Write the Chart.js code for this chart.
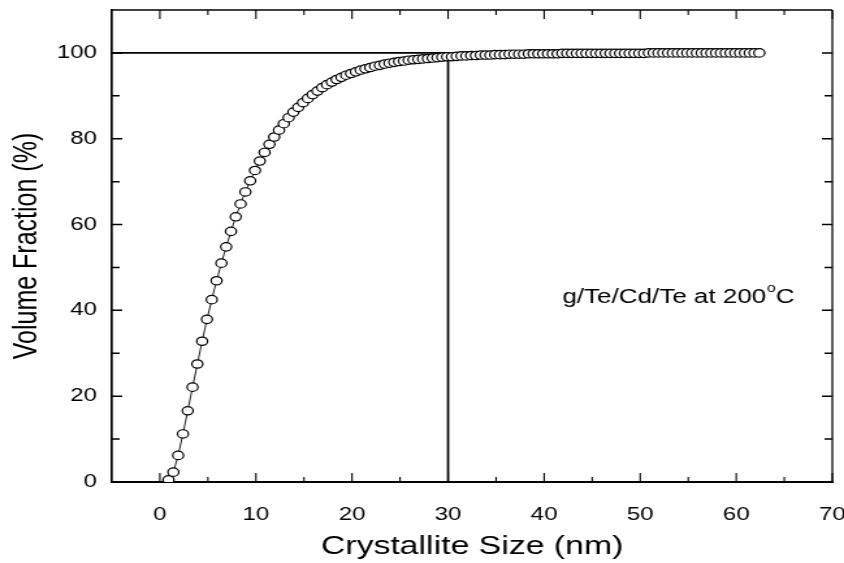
<!DOCTYPE html>
<html>
<head>
<meta charset="utf-8">
<script src="https://cdn.jsdelivr.net/npm/chart.js@4"></script>
<style>
  html, body { margin: 0; padding: 0; background: #ffffff; overflow: hidden; }
  /* the source figure is stretched sideways, so the canvas is drawn narrow and widened */
  #wrap { width: 649px; height: 563px; transform: scale(1.3005, 1); transform-origin: 0 0; }
</style>
</head>
<body>
<div id="wrap"><canvas id="vf_chart" width="649" height="563"></canvas></div>
<script>
// crystallite size (nm) of each measured point
var sizeNm = [
  0.9, 1.4, 1.9, 2.4, 2.9, 3.4, 3.9, 4.4, 4.9, 5.4,
  5.9, 6.4, 6.9, 7.4, 7.9, 8.4, 8.9, 9.4, 9.9, 10.4,
  10.9, 11.4, 11.9, 12.4, 12.9, 13.4, 13.9, 14.4, 14.9, 15.4,
  15.9, 16.4, 16.9, 17.4, 17.9, 18.4, 18.9, 19.4, 19.9, 20.4,
  20.9, 21.4, 21.9, 22.4, 22.9, 23.4, 23.9, 24.4, 24.9, 25.4,
  25.9, 26.4, 26.9, 27.4, 27.9, 28.4, 28.9, 29.4, 29.9, 30.4,
  30.9, 31.4, 31.9, 32.4, 32.9, 33.4, 33.9, 34.4, 34.9, 35.4,
  35.9, 36.4, 36.9, 37.4, 37.9, 38.4, 38.9, 39.4, 39.9, 40.4,
  40.9, 41.4, 41.9, 42.4, 42.9, 43.4, 43.9, 44.4, 44.9, 45.4,
  45.9, 46.4, 46.9, 47.4, 47.9, 48.4, 48.9, 49.4, 49.9, 50.4,
  50.9, 51.4, 51.9, 52.4, 52.9, 53.4, 53.9, 54.4, 54.9, 55.4,
  55.9, 56.4, 56.9, 57.4, 57.9, 58.4, 58.9, 59.4, 59.9, 60.4,
  60.9, 61.4, 61.9, 62.4
];
// volume fraction (%)
var volumeFraction = [
  0.5, 2.3, 6.2, 11.2, 16.6, 22.1, 27.5, 32.8, 37.9, 42.5,
  46.9, 51.0, 54.8, 58.4, 61.8, 64.8, 67.6, 70.2, 72.6, 74.8,
  76.8, 78.7, 80.4, 82.0, 83.5, 84.9, 86.2, 87.3, 88.4, 89.4,
  90.3, 91.1, 91.9, 92.6, 93.2, 93.8, 94.3, 94.8, 95.2, 95.6,
  96.0, 96.3, 96.6, 96.9, 97.1, 97.4, 97.6, 97.8, 98.0, 98.1,
  98.3, 98.4, 98.5, 98.6, 98.7, 98.8, 98.9, 99.0, 99.1, 99.1,
  99.2, 99.3, 99.3, 99.4, 99.4, 99.5, 99.5, 99.5, 99.6, 99.6,
  99.6, 99.7, 99.7, 99.7, 99.7, 99.8, 99.8, 99.8, 99.8, 99.8,
  99.8, 99.8, 99.9, 99.9, 99.9, 99.9, 99.9, 99.9, 99.9, 99.9,
  99.9, 99.9, 99.9, 99.9, 99.9, 99.9, 99.9, 99.9, 99.9, 99.9,
  100.0, 100.0, 100.0, 100.0, 100.0, 100.0, 100.0, 100.0, 100.0, 100.0,
  100.0, 100.0, 100.0, 100.0, 100.0, 100.0, 100.0, 100.0, 100.0, 100.0,
  100.0, 100.0, 100.0, 100.0
];
// guide lines: 100 % level and the 30 nm drop line
var guideX = [-5, 30, 30];
var guideY = [100, 100, 0];

var xTicks = [0, 10, 20, 30, 40, 50, 60, 70];
var xMinorTicks = [5, 15, 25, 35, 45, 55, 65];
var yTicks = [0, 20, 40, 60, 80, 100];
var yMinorTicks = [10, 30, 50, 70, 90];

var labelText = "g/Te/Cd/Te at 200";
var labelSup = "o";
var labelEnd = "C";
var labelPos = [41.9, 43];

var fontFamily = "'Liberation Sans', Arial, sans-serif";

//build point lists for the library
var curvePts = [];
for (var i = 0; i < sizeNm.length; i++) {
    curvePts.push({x: sizeNm[i], y: volumeFraction[i]});
}
var guidePts = [];
for (var j = 0; j < guideX.length; j++) {
    guidePts.push({x: guideX[j], y: guideY[j]});
}

//frame, inward ticks and the text label
var framePlugin = {
    id: "frame",
    afterDraw: function(chart) {
        var ctx = chart.ctx;
        var a = chart.chartArea;
        var xs = chart.scales.x;
        var ys = chart.scales.y;
        ctx.save();
        ctx.strokeStyle = "#000";
        ctx.lineWidth = 1.5;
        ctx.beginPath();
        ctx.moveTo(a.left, a.top);
        ctx.lineTo(a.right, a.top);
        ctx.stroke();
        ctx.lineWidth = 1.3;
        ctx.beginPath();
        ctx.moveTo(a.right, a.top);
        ctx.lineTo(a.right, a.bottom);
        ctx.stroke();

        //x ticks (vertical strokes)
        ctx.lineWidth = 1.1;
        ctx.beginPath();
        function xTick(v, len) {
            var px = xs.getPixelForValue(v);
            ctx.moveTo(px, a.bottom); ctx.lineTo(px, a.bottom - len);
            ctx.moveTo(px, a.top); ctx.lineTo(px, a.top + len);
        }
        xTicks.forEach(function(v){ xTick(v, 9); });
        xMinorTicks.forEach(function(v){ xTick(v, 5); });
        ctx.stroke();

        //y ticks (horizontal strokes)
        ctx.lineWidth = 1.5;
        ctx.beginPath();
        function yTick(v, len) {
            var py = ys.getPixelForValue(v);
            ctx.moveTo(a.left, py); ctx.lineTo(a.left + len, py);
            ctx.moveTo(a.right, py); ctx.lineTo(a.right - len, py);
        }
        yTicks.forEach(function(v){ yTick(v, 8); });
        yMinorTicks.forEach(function(v){ yTick(v, 6); });
        ctx.stroke();

        //label with superscript degree sign
        var lx = xs.getPixelForValue(labelPos[0]);
        var ly = ys.getPixelForValue(labelPos[1]);
        ctx.fillStyle = "#000";
        ctx.textBaseline = "middle";
        ctx.textAlign = "left";
        ctx.font = "20px " + fontFamily;
        ctx.fillText(labelText, lx, ly);
        var w = ctx.measureText(labelText).width;
        ctx.font = "12px " + fontFamily;
        ctx.fillText(labelSup, lx + w + 0.5, ly - 9);
        var w2 = ctx.measureText(labelSup).width;
        ctx.font = "20px " + fontFamily;
        ctx.fillText(labelEnd, lx + w + w2 + 0.5, ly);
        ctx.restore();
    }
};

var ctx = document.getElementById("vf_chart");
var graph = new Chart(ctx, {
    type: "scatter",
    data: {
        datasets: [{
            data: guidePts,
            showLine: true,
            borderColor: "#000",
            borderWidth: 1.7,
            pointRadius: 0,
            order: 2
        }, {
            data: curvePts,
            showLine: true,
            borderColor: "#000",
            borderWidth: 0.9,
            pointRadius: 4.2,
            pointBorderWidth: 1.2,
            pointBackgroundColor: "#fff",
            pointBorderColor: "#000",
            order: 1
        }]
    },
    options: {
        responsive: false,
        animation: false,
        layout: { padding: { top: 10, right: 9, left: 0, bottom: 0 } },
        plugins: { legend: { display: false }, tooltip: { enabled: false } },
        scales: {
            x: {
                type: "linear",
                min: -5,
                max: 70,
                grid: { display: false, drawTicks: false },
                border: { display: true, color: "#000", width: 2 },
                afterBuildTicks: function(scale) {
                    scale.ticks = xTicks.map(function(v){ return {value: v}; });
                },
                afterFit: function(scale) {
                    scale.height = 81;
                    scale.paddingLeft = 0;
                    scale.paddingRight = 0;
                },
                ticks: {
                    padding: 22,
                    color: "#000",
                    maxRotation: 0,
                    font: { size: 18.5, family: fontFamily }
                },
                title: {
                    display: true,
                    text: "Crystallite Size (nm)",
                    color: "#000",
                    padding: 1,
                    font: { size: 26, family: fontFamily }
                }
            },
            y: {
                type: "linear",
                min: 0,
                max: 110,
                grid: { display: false, drawTicks: false },
                border: { display: true, color: "#000", width: 1.7 },
                afterBuildTicks: function(scale) {
                    scale.ticks = yTicks.map(function(v){ return {value: v}; });
                },
                afterFit: function(scale) {
                    scale.width = 86;
                    scale.paddingTop = 0;
                    scale.paddingBottom = 0;
                },
                ticks: {
                    padding: 11.5,
                    color: "#000",
                    font: { size: 18.5, family: fontFamily }
                },
                title: {
                    display: true,
                    text: "Volume Fraction (%)",
                    color: "#000",
                    padding: 6,
                    font: { size: 25, family: fontFamily }
                }
            }
        }
    },
    plugins: [framePlugin]
});
</script>
</body>
</html>
